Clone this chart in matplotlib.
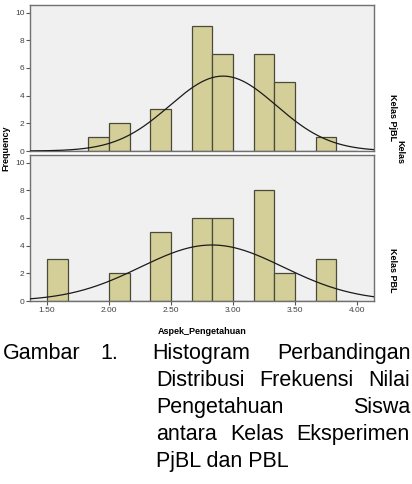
import numpy as np
import matplotlib
matplotlib.use('Agg')
import matplotlib.pyplot as plt

# Histogram data (bins of width 1/6 starting at 1.5)
bin_edges = np.arange(1.5, 4.0 + 1e-9, 1/6)
counts_pjbl = [0, 0, 1, 2, 0, 3, 0, 9, 7, 0, 7, 5, 0, 1, 0]
counts_pbl = [3, 0, 0, 2, 0, 5, 0, 6, 6, 0, 8, 2, 0, 3, 0]
# normal curve parameters
mean_pjbl, sd_pjbl = 2.92, 0.43
mean_pbl, sd_pbl = 2.83, 0.575
n_total = 35

panel_labels = ['Kelas PjBL', 'Kelas PBL']
xticks = [1.5, 2.0, 2.5, 3.0, 3.5, 4.0]
yticks = [0, 2, 4, 6, 8, 10]

W, H = 412, 484
fig = plt.figure(figsize=(W/100, H/100), dpi=100)
plt.rcParams['font.family'] = ['Liberation Sans', 'DejaVu Sans']

def px(x0, y0, x1, y1):
    return [x0/W, 1 - y1/H, (x1-x0)/W, (y1-y0)/H]

axes = [fig.add_axes(px(30, 5, 374, 151)), fig.add_axes(px(30, 155, 374, 301))]
data = [(counts_pjbl, mean_pjbl, sd_pjbl), (counts_pbl, mean_pbl, sd_pbl)]

xs = np.linspace(1.36, 4.14, 300)
for ax, (cnt, mu, sd) in zip(axes, data):
    ax.set_facecolor('#f0f0f0')
    ax.bar(bin_edges[:-1], cnt, width=1/6, align='edge', color='#d4cf98',
           edgecolor='#4a4a3a', linewidth=0.9, zorder=2)
    bw = 1/6
    curve = n_total * bw / (sd * np.sqrt(2*np.pi)) * np.exp(-0.5*((xs-mu)/sd)**2)
    ax.plot(xs, curve, color='#1a1a1a', linewidth=0.9, zorder=3)
    ax.set_xlim(1.363, 4.137)
    ax.set_ylim(0, 10.55)
    ax.set_yticks(yticks)
    ax.set_yticklabels([str(v) for v in yticks], fontsize=6, color='#404040')
    ax.tick_params(axis='both', direction='out', length=3, width=0.8,
                   color='#555555', pad=1)
    for s in ax.spines.values():
        s.set_color('#707070')
        s.set_linewidth(1.0)

axes[0].set_xticks([])
axes[1].set_xticks(xticks)
axes[1].set_xticklabels(['%.2f' % v for v in xticks], fontsize=6, color='#404040')

fig.text(6/W, 1 - 148/H, 'Frequency', rotation=90, ha='center', va='center',
         fontsize=6.5, fontweight='bold')
fig.text(202/W, 1 - 331/H, 'Aspek_Pengetahuan', ha='center', va='center',
         fontsize=6.5, fontweight='bold')
fig.text(393/W, 1 - 117/H, panel_labels[0], rotation=-90, ha='center', va='center',
         fontsize=6.5, fontweight='bold')
fig.text(400/W, 1 - 152/H, 'Kelas', rotation=-90, ha='center', va='center',
         fontsize=6.5, fontweight='bold')
fig.text(393/W, 1 - 270/H, panel_labels[1], rotation=-90, ha='center', va='center',
         fontsize=6.5, fontweight='bold')

# caption, justified word by word
fs = 15.5
renderer = fig.canvas.get_renderer()

def justify(words, left, right, base):
    ts = [fig.text(0, 1 - base/H, w, fontsize=fs, va='baseline') for w in words]
    widths = [t.get_window_extent(renderer).width for t in ts]
    gap = (right - left - sum(widths)) / max(len(words) - 1, 1)
    x = left
    for t, w in zip(ts, widths):
        t.set_x(x/W)
        x += w + gap

def place(word, x, base, ha='left'):
    fig.text(x/W, 1 - base/H, word, fontsize=fs, va='baseline', ha=ha)

place('Gambar', 3, 359)
place('1.', 100, 359)
justify(['Histogram', 'Perbandingan'], 152, 411, 359)
justify(['Distribusi', 'Frekuensi', 'Nilai'], 156, 410, 386)
justify(['Pengetahuan', 'Siswa'], 156, 410, 413)
justify(['antara', 'Kelas', 'Eksperimen'], 156, 410, 440)
place('PjBL dan PBL', 156, 467)

fig.savefig('out.png', dpi=100)
